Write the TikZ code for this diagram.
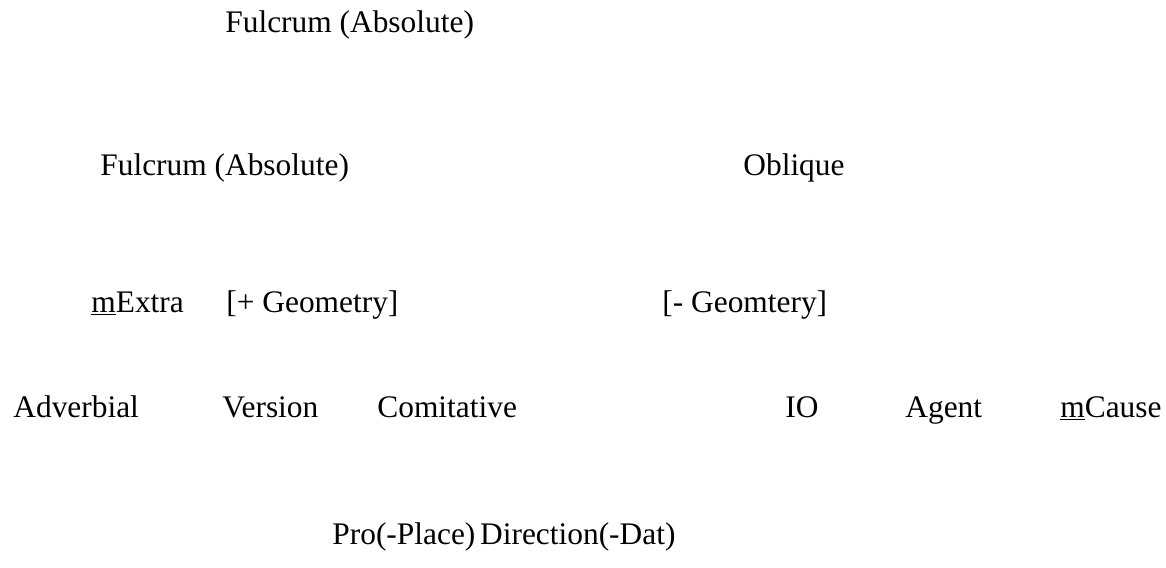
\documentclass[tikz,border=0pt]{standalone}
\usepackage{fontspec}
\setmainfont{Liberation Serif}
\usepackage{tikz}
\usetikzlibrary{positioning}
\tikzset{
  lbl/.style={inner sep=0pt, anchor=base west, font=\fontsize{15.7}{18}\selectfont},
}

\begin{document}
\begin{tikzpicture}[x=0.5pt, y=-0.5pt]
  \useasboundingbox (0,0) rectangle (1166,567);
  % top levels
  \node[lbl] (ftop) at (225,33) {Fulcrum (Absolute)};
  \node[lbl] (fabs) at (100,175) {Fulcrum (Absolute)};
  \node[lbl] (obl) at (743,175) {Oblique};
  % geometry split
  \node[lbl] (mextra) at (91,312) {\underline{m}Extra};
  \node[lbl] (geomplus) at (226,312) {[+ Geometry]};
  \node[lbl] (geomminus) at (662,312) {[- Geomtery]};
  % roles
  \node[lbl] (adv) at (13,417) {Adverbial};
  \node[lbl] (vers) at (222,417) {Version};
  \node[lbl] (comit) at (377,417) {Comitative};
  \node[lbl] (io) at (785,417) {IO};
  \node[lbl] (agent) at (905,417) {Agent};
  \node[lbl] (mcause) at (1060,417) {\underline{m}Cause};
  % bottom
  \node[lbl] (proplace) at (332,544) {Pro(-Place)};
  \node[lbl, right=4 of proplace.base east, anchor=base west] (direc) {Direction(-Dat)};
\end{tikzpicture}
\end{document}
